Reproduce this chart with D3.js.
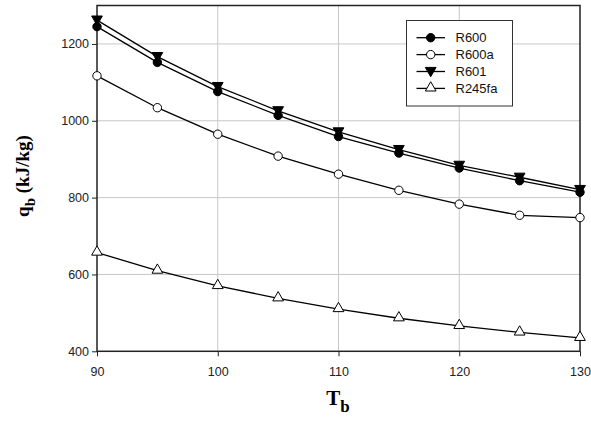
<!DOCTYPE html>
<html><head><meta charset="utf-8">
<script src="https://cdn.jsdelivr.net/npm/d3@7"></script>
<style>body{margin:0;background:#fff}</style>
</head><body>
<svg id="c" width="591" height="426"></svg>
<script>
const temps = [90, 95, 100, 105, 110, 115, 120, 125, 130];
const r600   = [1245, 1152, 1076, 1014, 959, 916, 877, 844, 814];
const r600a  = [1117, 1034, 965, 908, 861, 819, 783, 754, 748];
const r601   = [1262, 1167, 1089, 1026, 971, 925, 884, 853, 821];
const r245fa = [657, 610, 570, 538, 510, 486, 466, 449, 435];
const xTicks = [90, 100, 110, 120, 130];
const yTicks = [400, 600, 800, 1000, 1200];
const seriesNames = ["R600", "R600a", "R601", "R245fa"];

const series = [
  {name: seriesNames[0], vals: r600, sym: "circle", fill: "#000"},
  {name: seriesNames[1], vals: r600a, sym: "circle", fill: "#fff"},
  {name: seriesNames[2], vals: r601, sym: "tridown", fill: "#000"},
  {name: seriesNames[3], vals: r245fa, sym: "triup", fill: "#fff"}
];

const svg = d3.select("#c");
const L = 97, R = 580, T = 5.5, B = 351.3;
const x = d3.scaleLinear().domain([90, 130]).range([L, R]);
const y = d3.scaleLinear().domain([400, 1300]).range([B, T]);

// grid
svg.append("g").selectAll("line").data(xTicks.slice(1, -1)).join("line")
  .attr("x1", d => x(d)).attr("x2", d => x(d)).attr("y1", T).attr("y2", B)
  .attr("stroke", "#c8c8c8").attr("stroke-width", 1);
svg.append("g").selectAll("line").data(yTicks.slice(1)).join("line")
  .attr("x1", L).attr("x2", R).attr("y1", d => y(d)).attr("y2", d => y(d))
  .attr("stroke", "#c8c8c8").attr("stroke-width", 1);

// frame
svg.append("rect").attr("x", L).attr("y", T).attr("width", R - L).attr("height", B - T)
  .attr("fill", "none").attr("stroke", "#222").attr("stroke-width", 1.5);

// axes
const xAxis = svg.append("g").attr("transform", `translate(0,${B})`)
  .call(d3.axisBottom(x).tickValues(xTicks).tickFormat(d3.format("d")).tickSize(5).tickSizeOuter(0));
const yAxis = svg.append("g").attr("transform", `translate(${L},0)`)
  .call(d3.axisLeft(y).tickValues(yTicks).tickFormat(d3.format("d")).tickSize(5).tickSizeOuter(0));
[xAxis, yAxis].forEach(a => {
  a.select(".domain").remove();
  a.selectAll("line").attr("stroke", "#222");
  a.selectAll("text").attr("font-family", "Arial, Liberation Sans, sans-serif")
    .attr("font-size", 12.5).attr("fill", "#222");
});
xAxis.selectAll("text").attr("dy", "1.3em");

// symbols
const triUp = d3.symbol().type(d3.symbolTriangle).size(50);
function drawSym(g, s, cx, cy) {
  if (s.sym === "circle") {
    g.append("circle").attr("cx", cx).attr("cy", cy).attr("r", 4.2)
      .attr("fill", s.fill).attr("stroke", "#000").attr("stroke-width", 1);
  } else {
    const rot = s.sym === "tridown" ? 180 : 0;
    g.append("path").attr("d", triUp())
      .attr("transform", `translate(${cx},${cy + (rot ? -1 : -0.5)}) rotate(${rot})`)
      .attr("fill", s.fill).attr("stroke", "#000").attr("stroke-width", 1);
  }
}

const line = d3.line().x((d, i) => x(temps[i])).y(d => y(d));
series.forEach(s => {
  svg.append("path").datum(s.vals).attr("d", line)
    .attr("fill", "none").attr("stroke", "#000").attr("stroke-width", 1.3);
});
series.forEach(s => {
  const g = svg.append("g");
  s.vals.forEach((v, i) => drawSym(g, s, x(temps[i]), y(v)));
});

// legend
const lg = svg.append("g");
lg.append("rect").attr("x", 406.5).attr("y", 20.5).attr("width", 106).attr("height", 85.5)
  .attr("fill", "#fff").attr("stroke", "#333").attr("stroke-width", 1);
series.forEach((s, i) => {
  const ly = 37.7 + i * 16.9;
  lg.append("line").attr("x1", 416.5).attr("x2", 445).attr("y1", ly).attr("y2", ly)
    .attr("stroke", "#000").attr("stroke-width", 1.3);
  drawSym(lg, s, 430.7, ly);
  lg.append("text").attr("x", 455.5).attr("y", ly + 4.5).text(s.name)
    .attr("font-family", "Arial, Liberation Sans, sans-serif").attr("font-size", 13).attr("fill", "#111");
});

// axis titles
const yt = svg.append("text").attr("transform", "translate(29,176) rotate(-90)")
  .attr("text-anchor", "middle").attr("font-family", "Liberation Serif, Times New Roman, serif")
  .attr("font-weight", "bold").attr("font-size", 19).attr("fill", "#000");
yt.append("tspan").text("q");
yt.append("tspan").text("b").attr("font-size", 15).attr("dy", 6);
yt.append("tspan").text(" (kJ/kg)").attr("dy", -6);

const xt = svg.append("text").attr("x", 338).attr("y", 405)
  .attr("text-anchor", "middle").attr("font-family", "Liberation Serif, Times New Roman, serif")
  .attr("font-weight", "bold").attr("font-size", 21).attr("fill", "#000");
xt.append("tspan").text("T");
xt.append("tspan").text("b").attr("font-size", 17).attr("dy", 7);
</script>
</body></html>
